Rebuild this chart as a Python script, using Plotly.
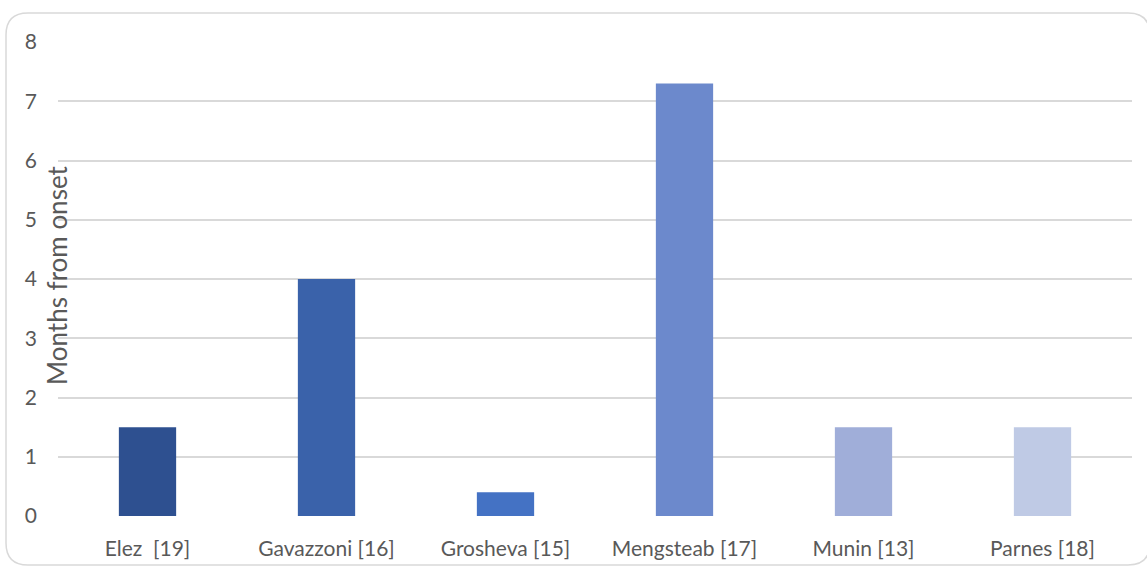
import plotly.graph_objects as go

# Studies and time from symptom onset (months)
studies = ["Elez  [19]", "Gavazzoni [16]", "Grosheva [15]", "Mengsteab [17]", "Munin [13]", "Parnes [18]"]
months = [1.5, 4.0, 0.4, 7.3, 1.5, 1.5]
bar_colors = ["#2E5090", "#3A62AA", "#4472C4", "#6C89CC", "#A0AED9", "#BFCAE5"]
y_ticks = [0, 1, 2, 3, 4, 5, 6, 7, 8]

W, H = 1147, 568
L, R, T, B = 58, 15, 42, 52
pw, ph = W - L - R, H - T - B

fig = go.Figure(go.Bar(
    x=studies, y=months, marker=dict(color=bar_colors, line=dict(width=0)),
    width=0.32, hoverinfo="x+y",
))

def px(x):
    return (x - L) / pw

def py(y):
    return (H - B - y) / ph

# rounded outer frame
x0, x1, y0, y1, r = 6, 1150, 13, 565, 22
path = (
    f"M {px(x0)} {py(y0 + r)} "
    f"Q {px(x0)} {py(y0)} {px(x0 + r)} {py(y0)} "
    f"L {px(x1 - r)} {py(y0)} "
    f"Q {px(x1)} {py(y0)} {px(x1)} {py(y0 + r)} "
    f"L {px(x1)} {py(y1 - r)} "
    f"Q {px(x1)} {py(y1)} {px(x1 - r)} {py(y1)} "
    f"L {px(x0 + r)} {py(y1)} "
    f"Q {px(x0)} {py(y1)} {px(x0)} {py(y1 - r)} Z"
)
fig.add_shape(type="path", path=path, xref="paper", yref="paper",
              line=dict(color="#D9D9D9", width=1.5), layer="below")

fig.add_annotation(text="Months from onset", textangle=-90,
                   x=px(57), y=py(275), xref="paper", yref="paper",
                   xanchor="center", yanchor="middle",
                   showarrow=False, font=dict(size=26, color="#595959"))

fig.update_layout(
    width=W, height=H,
    margin=dict(l=L, r=R, t=T, b=B, pad=0),
    paper_bgcolor="white", plot_bgcolor="white",
    font=dict(family="Lato, Open Sans, sans-serif", size=21, color="#595959"),
    showlegend=False,
    xaxis=dict(showgrid=False, showline=False, ticks="", ticklabelstandoff=18,
               automargin=False),
    yaxis=dict(range=[0, 8], tickvals=y_ticks, showgrid=True, gridcolor="#D9D9D9",
               gridwidth=1.5, zeroline=False, showline=False, ticks="",
               ticklabelstandoff=20, automargin=False),
)

fig.write_html("out.html")
